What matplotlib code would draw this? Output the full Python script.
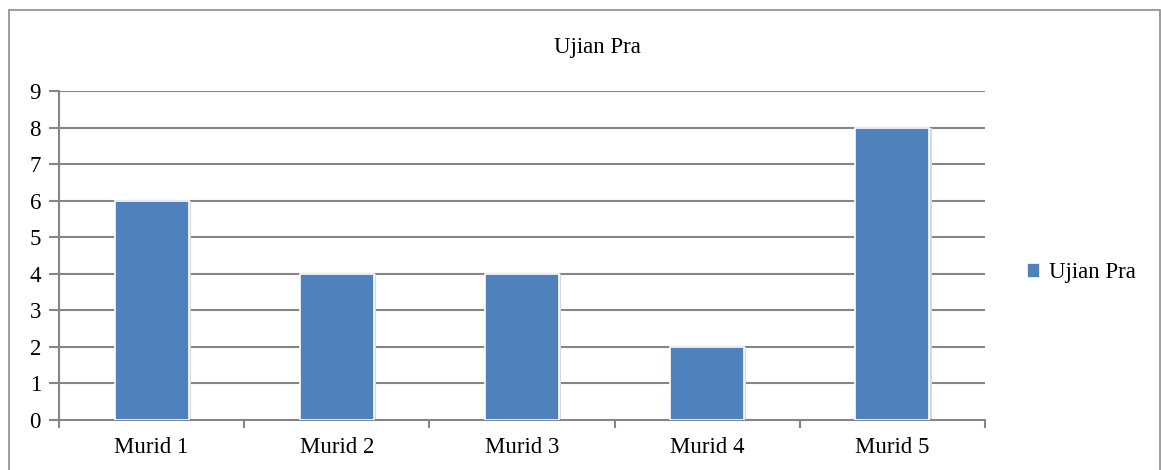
import matplotlib
matplotlib.use("Agg")
import matplotlib.pyplot as plt
from matplotlib.patches import Rectangle

# data
students = ["Murid 1", "Murid 2", "Murid 3", "Murid 4", "Murid 5"]
scores = [6, 4, 4, 2, 8]
series_name = "Ujian Pra"
yticks = list(range(0, 10))

plt.rcParams['font.family'] = ['Liberation Serif', 'DejaVu Serif']

W, H = 1161, 470
fig = plt.figure(figsize=(W / 100, H / 100), dpi=100)

# outer chart border
fig.patches.append(Rectangle((9 / W, -0.05), 1151 / W, 1.05 - 10 / H,
                             transform=fig.transFigure, fill=False,
                             edgecolor="#8c8c8c", linewidth=1.2))

ax = fig.add_axes([59 / W, 1 - 420 / H, 926 / W, 329 / H])

x = list(range(len(students)))
grid_col = "#868686"

for y in yticks[1:]:
    ax.axhline(y, color=grid_col, linewidth=1.5, zorder=1)

# soft shadow behind the bars
ax.bar([i + 0.012 for i in x], scores, width=0.4, color="#d9d9d9",
       zorder=2, linewidth=0)
ax.bar(x, scores, width=0.4, color="#4f81bd", edgecolor="white",
       linewidth=1.2, zorder=3, label=series_name)

ax.set_xlim(-0.5, len(students) - 0.5)
ax.set_ylim(0, 9)
ax.set_yticks(yticks)
ax.set_xticks(x)
ax.set_xticklabels(students)
ax.set_xticks([i - 0.5 for i in range(len(students) + 1)], minor=True)

for s in ["top", "right"]:
    ax.spines[s].set_visible(False)
for s in ["left", "bottom"]:
    ax.spines[s].set_color(grid_col)
    ax.spines[s].set_linewidth(1.5)

ax.tick_params(axis="x", which="major", length=0, labelsize=16.5, pad=12)
ax.tick_params(axis="x", which="minor", length=6, width=1.5, color=grid_col)
ax.tick_params(axis="y", length=7, width=1.5, color=grid_col, labelsize=16.5, pad=6)

# chart title is centred on the whole chart, not the plot area
fig.text(597 / W, 1 - 48 / H, series_name, fontsize=16.5, ha="center", va="center")

ax.legend(loc="center left", bbox_to_anchor=(1.035, 0.447), frameon=False,
          fontsize=16.5, handlelength=0.6, handleheight=0.6, handletextpad=0.4,
          borderaxespad=0)

fig.savefig("out.png", dpi=100)
